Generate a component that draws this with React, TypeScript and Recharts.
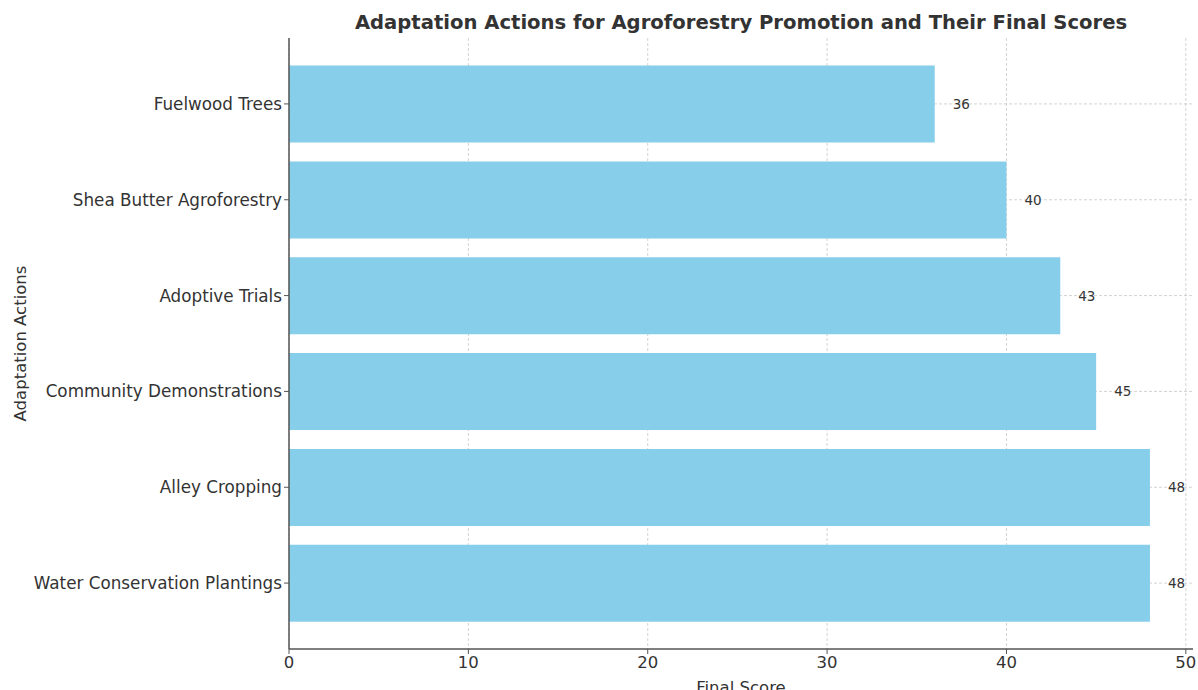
import React from "react";
import { BarChart, Bar, XAxis, YAxis, CartesianGrid, LabelList, Label } from "recharts";

const categories = [
  "Fuelwood Trees",
  "Shea Butter Agroforestry",
  "Adoptive Trials",
  "Community Demonstrations",
  "Alley Cropping",
  "Water Conservation Plantings",
];
const scores = [36, 40, 43, 45, 48, 48];
const xTicks = [0, 10, 20, 30, 40, 50];
const xDomain = [0, 50.4];
const yPad = 18;

const data = categories.map((name, i) => ({ name, score: scores[i] }));

const FONT = "DejaVu Sans, sans-serif";

const vGen = (args: any) => {
  const { xAxis, offset } = args;
  if (xAxis && typeof xAxis.scale === "function") return xTicks.map((t) => xAxis.scale(t));
  return xTicks.map((t) => offset.left + ((t - xDomain[0]) / (xDomain[1] - xDomain[0])) * offset.width);
};
const hGen = (args: any) => {
  const { yAxis, offset } = args;
  if (yAxis && typeof yAxis.scale === "function") {
    const bw = yAxis.scale.bandwidth ? yAxis.scale.bandwidth() : 0;
    return categories.map((c) => yAxis.scale(c) + bw / 2);
  }
  const band = (offset.height - 2 * yPad) / categories.length;
  return categories.map((_, i) => offset.top + yPad + band * (i + 0.5));
};

export default function App() {
  return (
    <div style={{ position: "absolute", left: 0, top: 0, width: 1198, height: 690, background: "#fff" }}>
      <div
        style={{
          position: "absolute",
          left: 289,
          width: 904,
          top: 11,
          textAlign: "center",
          fontFamily: FONT,
          fontWeight: "bold",
          fontSize: 19.6,
          color: "#333",
        }}
      >
        Adaptation Actions for Agroforestry Promotion and Their Final Scores
      </div>
      <BarChart
        width={1198}
        height={690}
        data={data}
        layout="vertical"
        margin={{ top: 38, right: 5, bottom: 0, left: 0 }}
        barCategoryGap="10%"
      >
        <XAxis
          type="number"
          domain={xDomain}
          ticks={xTicks}
          allowDataOverflow
          axisLine={{ stroke: "#555", strokeWidth: 1.5 }}
          tickLine={{ stroke: "#555" }}
          tickSize={5}
          tick={{ fill: "#333", fontSize: 16.5, fontFamily: FONT }}
          height={41}
        >
          <Label value="Final Score" position="insideBottom" offset={-3} style={{ fill: "#333", fontSize: 16.5, fontFamily: FONT }} />
        </XAxis>
        <YAxis
          type="category"
          dataKey="name"
          width={289}
          padding={{ top: yPad, bottom: yPad }}
          axisLine={{ stroke: "#555", strokeWidth: 1.5 }}
          tickLine={{ stroke: "#555" }}
          tickSize={5}
          tickMargin={2}
          tick={{ fill: "#333", fontSize: 16.8, fontFamily: FONT }}
        >
          <Label
            value="Adaptation Actions"
            angle={-90}
            position="insideLeft"
            offset={20}
            style={{ fill: "#333", fontSize: 16.5, fontFamily: FONT, textAnchor: "middle" }}
          />
        </YAxis>
        <Bar dataKey="score" fill="#87CEEB" isAnimationActive={false}>
          <LabelList dataKey="score" position="right" offset={18} style={{ fill: "#333", fontSize: 13.5, fontFamily: FONT }} />
        </Bar>
        <CartesianGrid
          stroke="#c8c8c8"
          strokeDasharray="3 2"
          strokeWidth={0.8}
          verticalCoordinatesGenerator={vGen}
          horizontalCoordinatesGenerator={hGen}
        />
      </BarChart>
    </div>
  );
}
